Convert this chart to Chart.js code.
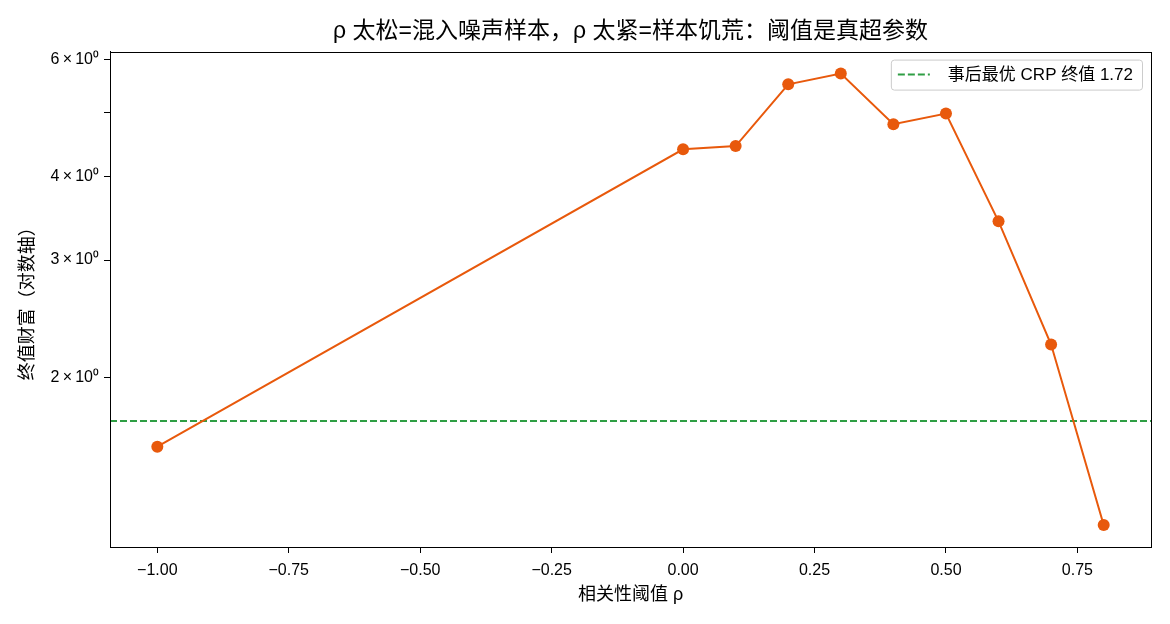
<!DOCTYPE html>
<html>
<head>
<meta charset="utf-8">
<script src="https://cdn.jsdelivr.net/npm/chart.js@4/dist/chart.umd.min.js"></script>
<style>
  html, body { margin: 0; padding: 0; background: #fff; }
  #wrap { width: 1170px; height: 624px; }
</style>
</head>
<body>
<div id="wrap"><canvas id="grafica"></canvas></div>
<script>
    // datos
    const rho = [-1.0, 0.0, 0.1, 0.2, 0.3, 0.4, 0.5, 0.6, 0.7, 0.8];
    const wealth = [1.573, 4.40, 4.45, 5.51, 5.72, 4.80, 4.98, 3.43, 2.24, 1.20];
    const crpBest = 1.72;
    const crpLabel = '事后最优 CRP 终值 1.72';

    const xTicks = [-1.0, -0.75, -0.5, -0.25, 0.0, 0.25, 0.5, 0.75];
    const yTicks = [2, 3, 4, 5, 6];
    const yTickLabels = ['2\u2009×\u200910⁰', '3\u2009×\u200910⁰', '4\u2009×\u200910⁰', '', '6\u2009×\u200910⁰'];

    const xLimits = [-1.09, 0.89];
    const yLimits = [1.112, 6.17];

    const FONT = '"Liberation Sans", "Noto Sans CJK SC", sans-serif';
    const NARANJA = '#e8590c';
    const VERDE = '#2f9e44';

    const lineaCRP = {
        id: 'lineaCRP',
        beforeDatasetsDraw(chart) {
            const {ctx, chartArea, scales} = chart;
            const y = scales.y.getPixelForValue(crpBest);
            ctx.save();
            ctx.strokeStyle = VERDE;
            ctx.lineWidth = 2;
            ctx.setLineDash([7, 3]);
            ctx.beginPath();
            ctx.moveTo(chartArea.left, y);
            ctx.lineTo(chartArea.right, y);
            ctx.stroke();
            ctx.restore();
        }
    };

    const marco = {
        id: 'marco',
        afterDraw(chart) {
            const {ctx, chartArea} = chart;
            ctx.save();
            ctx.strokeStyle = '#000';
            ctx.lineWidth = 1;
            ctx.strokeRect(Math.round(chartArea.left) + 0.5, Math.round(chartArea.top) + 0.5,
                Math.round(chartArea.right - chartArea.left), Math.round(chartArea.bottom - chartArea.top));

            // leyenda
            ctx.font = '17px ' + FONT;
            const tw = ctx.measureText(crpLabel).width;
            const right = chartArea.right - 9;
            const top = chartArea.top + 8;
            const w = tw + 66;
            const h = 30;
            const left = right - w;
            ctx.fillStyle = 'rgba(255,255,255,0.8)';
            ctx.strokeStyle = '#cccccc';
            ctx.setLineDash([]);
            ctx.beginPath();
            ctx.roundRect(left + 0.5, top + 0.5, w, h, 3);
            ctx.fill();
            ctx.stroke();
            ctx.strokeStyle = VERDE;
            ctx.lineWidth = 2;
            ctx.setLineDash([7, 3]);
            ctx.beginPath();
            ctx.moveTo(left + 7, top + h / 2);
            ctx.lineTo(left + 39, top + h / 2);
            ctx.stroke();
            ctx.fillStyle = '#000';
            ctx.textBaseline = 'middle';
            ctx.fillText(crpLabel, left + 57, top + h / 2 + 1);
            ctx.restore();
        }
    };

    const ctx = document.getElementById('grafica');
    new Chart(ctx, {
        type: 'line',
        data: {
            datasets: [{
                label: '终值财富',
                data: rho.map((r, i) => ({x: r, y: wealth[i]})),
                borderColor: NARANJA,
                backgroundColor: NARANJA,
                borderWidth: 2,
                pointRadius: 6,
                pointBorderWidth: 0,
                pointBackgroundColor: NARANJA,
                tension: 0
            }]
        },
        options: {
            responsive: true,
            maintainAspectRatio: false,
            animation: false,
            layout: { padding: { left: 0, right: 19, top: 0, bottom: 0 } },
            scales: {
                x: {
                    type: 'linear',
                    min: xLimits[0],
                    max: xLimits[1],
                    afterBuildTicks: scale => { scale.ticks = xTicks.map(v => ({value: v})); },
                    afterFit: scale => { scale.height = 77; },
                    grid: { display: true, drawOnChartArea: false, tickLength: 6, color: '#000', tickColor: '#000' },
                    border: { color: '#000' },
                    ticks: {
                        color: '#000',
                        padding: 8,
                        maxRotation: 0,
                        autoSkip: false,
                        font: { size: 16, family: FONT },
                        callback: v => v.toFixed(2).replace('-', '−')
                    },
                    title: {
                        display: true,
                        text: '相关性阈值 ρ',
                        color: '#000',
                        font: { size: 18, family: FONT },
                        padding: { top: 0, bottom: 18 }
                    }
                },
                y: {
                    type: 'logarithmic',
                    min: yLimits[0],
                    max: yLimits[1],
                    afterBuildTicks: scale => { scale.ticks = yTicks.map(v => ({value: v})); },
                    afterFit: scale => { scale.width = 110; },
                    grid: { display: true, drawOnChartArea: false, tickLength: 6, color: '#000', tickColor: '#000' },
                    border: { color: '#000' },
                    ticks: {
                        color: '#000',
                        padding: 5,
                        autoSkip: false,
                        font: { size: 16, family: FONT },
                        callback: (v, i) => yTickLabels[i]
                    },
                    title: {
                        display: true,
                        text: '终值财富（对数轴）',
                        color: '#000',
                        font: { size: 18, family: FONT },
                        padding: { top: 17, bottom: 0 }
                    }
                }
            },
            plugins: {
                legend: { display: false },
                tooltip: { enabled: false },
                title: {
                    display: true,
                    fullSize: false,
                    text: 'ρ 太松=混入噪声样本，ρ 太紧=样本饥荒：阈值是真超参数',
                    color: '#000',
                    font: { size: 23, weight: 'normal', family: FONT },
                    padding: { top: 18, bottom: 6 }
                }
            }
        },
        plugins: [lineaCRP, marco]
    });
</script>
</body>
</html>
